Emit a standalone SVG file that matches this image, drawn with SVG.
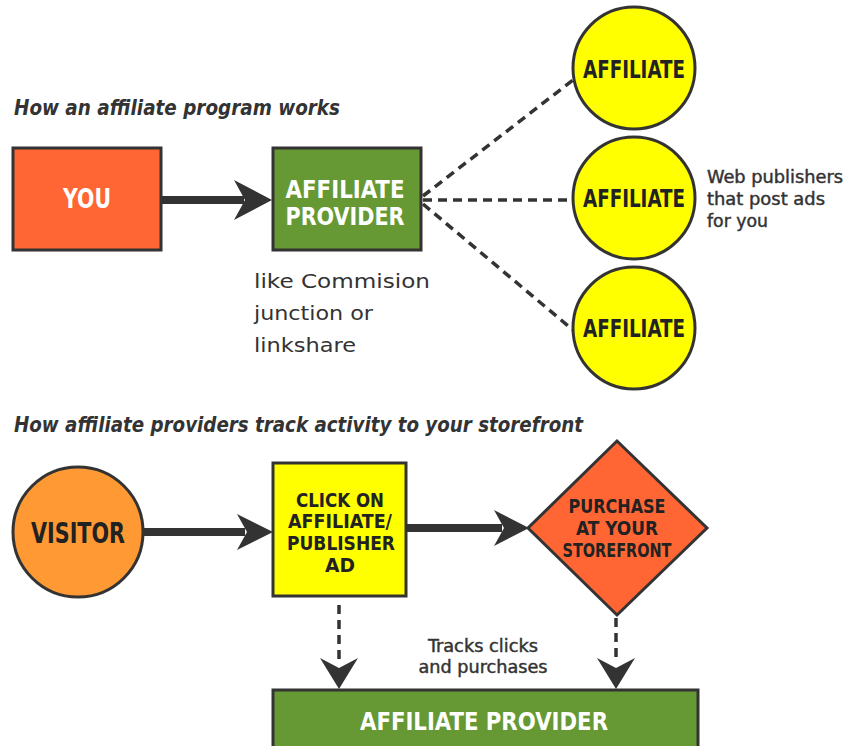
<svg xmlns="http://www.w3.org/2000/svg" width="846" height="746" viewBox="0 0 846 746">
<style>
.bg{fill:#ffffff}
.box{stroke:#333333;stroke-width:3}
.orange{fill:#ff6633}
.green{fill:#669933}
.yellow{fill:#ffff00}
.lorange{fill:#ff9933}
.title{font-family:"DejaVu Sans Condensed","DejaVu Sans",sans-serif;font-style:italic;font-weight:bold;font-size:21px;fill:#333333}
.lab{font-family:"DejaVu Sans Condensed","DejaVu Sans",sans-serif;font-weight:bold;text-anchor:middle}
.white{fill:#ffffff}
.dark{fill:#222222}
.note{font-family:"DejaVu Sans Condensed","DejaVu Sans",sans-serif;font-size:17px;fill:#333333;stroke:#333333;stroke-width:0.4}
.side{font-family:"DejaVu Sans","Verdana",sans-serif;font-size:20px;fill:#333333}
.solid{stroke:#333333;stroke-width:8;fill:none}
.dash{stroke:#333333;stroke-width:3.5;fill:none;stroke-dasharray:9 6}
.head{fill:#333333}
</style>
<rect class="bg" x="0" y="0" width="846" height="746"/>

<text class="title" x="14" y="115" textLength="326" lengthAdjust="spacingAndGlyphs">How an affiliate program works</text>
<text class="title" x="14" y="432" textLength="569" lengthAdjust="spacingAndGlyphs">How affiliate providers track activity to your storefront</text>

<g id="connectors">
  <line class="solid" x1="161" y1="200" x2="244" y2="200"/>
  <path class="head" d="M272,200 L234,180 L245,200 L234,220 Z"/>
  <line class="dash" x1="423" y1="196" x2="573" y2="80"/>
  <line class="dash" x1="423" y1="200" x2="573" y2="200"/>
  <line class="dash" x1="423" y1="204" x2="573" y2="330"/>
  <line class="solid" x1="143" y1="532" x2="245" y2="532"/>
  <path class="head" d="M273,532 L237,514 L247,532 L237,550 Z"/>
  <line class="solid" x1="406" y1="528" x2="502" y2="528"/>
  <path class="head" d="M529,528 L494,510 L504,528 L494,546 Z"/>
  <line class="dash" x1="339" y1="605" x2="339" y2="662"/>
  <path class="head" d="M339,689 L320,658 L339,668 L358,658 Z"/>
  <line class="dash" x1="616" y1="618" x2="616" y2="662"/>
  <path class="head" d="M616,689 L597,658 L616,668 L635,658 Z"/>
</g>

<g id="you">
  <rect class="box orange" x="13" y="148" width="148" height="102"/>
  <text class="lab white" x="87" y="208" font-size="26" textLength="48" lengthAdjust="spacingAndGlyphs">YOU</text>
</g>

<g id="affiliate-provider-top">
  <rect class="box green" x="273" y="148" width="148" height="102"/>
  <text class="lab white" x="345" y="198" font-size="25" textLength="119" lengthAdjust="spacingAndGlyphs">AFFILIATE</text>
  <text class="lab white" x="345" y="225" font-size="25" textLength="119" lengthAdjust="spacingAndGlyphs">PROVIDER</text>
</g>

<g id="provider-note">
  <text class="side" x="254" y="288" textLength="176" lengthAdjust="spacingAndGlyphs">like Commision</text>
  <text class="side" x="254" y="320" textLength="119" lengthAdjust="spacingAndGlyphs">junction or</text>
  <text class="side" x="254" y="352" textLength="102" lengthAdjust="spacingAndGlyphs">linkshare</text>
</g>

<g id="affiliate-1">
  <circle class="box yellow" cx="634" cy="68" r="61"/>
  <text class="lab dark" x="634" y="78" font-size="24" textLength="102" lengthAdjust="spacingAndGlyphs">AFFILIATE</text>
</g>
<g id="affiliate-2">
  <circle class="box yellow" cx="634" cy="198" r="61"/>
  <text class="lab dark" x="634" y="207" font-size="24" textLength="102" lengthAdjust="spacingAndGlyphs">AFFILIATE</text>
</g>
<g id="affiliate-3">
  <circle class="box yellow" cx="634" cy="328" r="61"/>
  <text class="lab dark" x="634" y="337" font-size="24" textLength="102" lengthAdjust="spacingAndGlyphs">AFFILIATE</text>
</g>

<g id="publishers-note">
  <text class="note" x="707" y="183" textLength="136" lengthAdjust="spacingAndGlyphs">Web publishers</text>
  <text class="note" x="707" y="205" textLength="118" lengthAdjust="spacingAndGlyphs">that post ads</text>
  <text class="note" x="707" y="227" textLength="61" lengthAdjust="spacingAndGlyphs">for you</text>
</g>

<g id="visitor">
  <circle class="box lorange" cx="78" cy="532" r="65"/>
  <text class="lab dark" x="78" y="543" font-size="29" textLength="94" lengthAdjust="spacingAndGlyphs">VISITOR</text>
</g>

<g id="click-ad">
  <rect class="box yellow" x="273" y="463" width="133" height="133"/>
  <text class="lab dark" x="340" y="507" font-size="19" textLength="88" lengthAdjust="spacingAndGlyphs">CLICK ON</text>
  <text class="lab dark" x="340" y="528" font-size="19" textLength="104" lengthAdjust="spacingAndGlyphs">AFFILIATE/</text>
  <text class="lab dark" x="341" y="550" font-size="19" textLength="108" lengthAdjust="spacingAndGlyphs">PUBLISHER</text>
  <text class="lab dark" x="340" y="572" font-size="19" textLength="30" lengthAdjust="spacingAndGlyphs">AD</text>
</g>

<g id="purchase">
  <polygon class="box orange" points="617,441 707,528 617,615 528,528"/>
  <text class="lab dark" x="617" y="513" font-size="20" textLength="97" lengthAdjust="spacingAndGlyphs">PURCHASE</text>
  <text class="lab dark" x="617" y="535" font-size="20" textLength="82" lengthAdjust="spacingAndGlyphs">AT YOUR</text>
  <text class="lab dark" x="617" y="557" font-size="20" textLength="109" lengthAdjust="spacingAndGlyphs">STOREFRONT</text>
</g>

<g id="tracks-note">
  <text class="note" x="483" y="652" text-anchor="middle" textLength="110" lengthAdjust="spacingAndGlyphs">Tracks clicks</text>
  <text class="note" x="483" y="673" text-anchor="middle" textLength="129" lengthAdjust="spacingAndGlyphs">and purchases</text>
</g>

<g id="affiliate-provider-bottom">
  <rect class="box green" x="273" y="690" width="425" height="70"/>
  <text class="lab white" x="484" y="730" font-size="25" textLength="248" lengthAdjust="spacingAndGlyphs">AFFILIATE PROVIDER</text>
</g>
</svg>
